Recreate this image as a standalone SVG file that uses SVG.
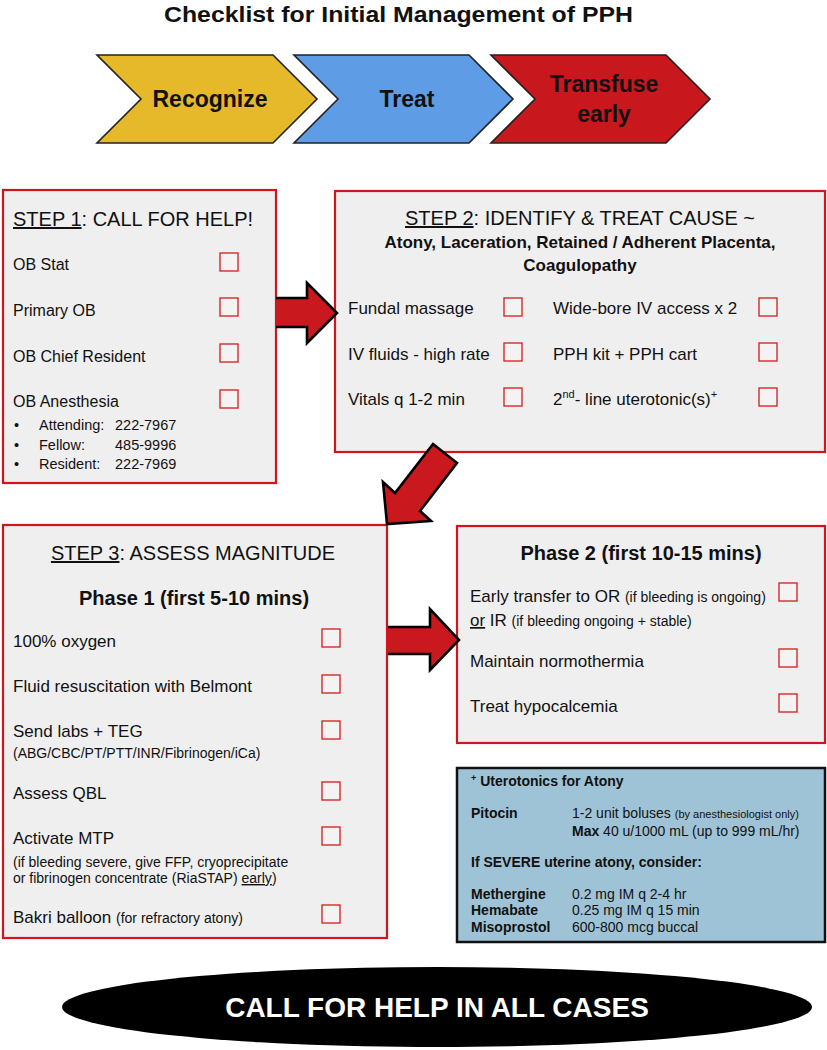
<svg xmlns="http://www.w3.org/2000/svg" width="827" height="1050" viewBox="0 0 827 1050">
<style>
text{font-family:"Liberation Sans",Arial,sans-serif;fill:#111}
.box{fill:#efefef;stroke:#d3141c;stroke-width:2.2}
.cb{fill:#f3f3f3;stroke:#d42a2a;stroke-width:1.4}
.it{font-size:17px}
.it16{font-size:16px}
.sm{font-size:14px}
.hd{font-size:20px}
.b{font-weight:bold}
.u{text-decoration:underline}
.chev{stroke:#222;stroke-width:1.6}
.ctext{font-size:23px;font-weight:bold;text-anchor:middle}
.arrow{fill:#c9191e;stroke:#000;stroke-width:2.6;stroke-linejoin:miter}
.afill{fill:#c9191e;stroke:none}
.aline{fill:none;stroke:#000;stroke-width:2.6;stroke-linejoin:miter}
.bt{font-size:14px}
.bs{font-size:11px}
</style>

<g id="title">
<text x="164" y="22" font-size="22" font-weight="bold" textLength="469" lengthAdjust="spacingAndGlyphs">Checklist for Initial Management of PPH</text>
</g>

<g id="chevron-recognize">
<polygon class="chev" fill="#e6b92a" points="97,55 273,55 317,99 273,143 97,143 141,99"/>
<text class="ctext" x="210" y="107">Recognize</text>
</g>
<g id="chevron-treat">
<polygon class="chev" fill="#5e9de6" points="294,55 469,55 513,99 469,143 294,143 338,99"/>
<text class="ctext" x="407" y="107">Treat</text>
</g>
<g id="chevron-transfuse">
<polygon class="chev" fill="#c8171d" points="491,55 666,55 710,99 666,143 491,143 535,99"/>
<text class="ctext" x="604" y="92">Transfuse</text>
<text class="ctext" x="604" y="122">early</text>
</g>

<g id="step1">
<rect class="box" x="3" y="190" width="273" height="293"/>
<text class="hd" x="13" y="226"><tspan class="u">STEP 1</tspan>: CALL FOR HELP!</text>
<text class="it16" x="13" y="270">OB Stat</text>
<text class="it16" x="13" y="316">Primary OB</text>
<text class="it16" x="13" y="362">OB Chief Resident</text>
<text class="it16" x="13" y="407">OB Anesthesia</text>
<rect class="cb" x="220" y="253" width="18" height="18"/>
<rect class="cb" x="220" y="298" width="18" height="18"/>
<rect class="cb" x="220" y="344" width="18" height="18"/>
<rect class="cb" x="220" y="390" width="18" height="18"/>
<g font-size="14.5">
<text x="14" y="430">•</text><text x="39" y="430">Attending:</text><text x="115" y="430">222-7967</text>
<text x="14" y="450">•</text><text x="39" y="450">Fellow:</text><text x="115" y="450">485-9996</text>
<text x="14" y="469">•</text><text x="39" y="469">Resident:</text><text x="115" y="469">222-7969</text>
</g>
</g>

<g id="step2">
<rect class="box" x="335" y="191" width="490" height="261"/>
<text class="hd" x="580" y="225" text-anchor="middle"><tspan class="u">STEP 2</tspan>: IDENTIFY &amp; TREAT CAUSE ~</text>
<text class="it b" x="580" y="248" text-anchor="middle">Atony, Laceration, Retained / Adherent Placenta,</text>
<text class="it b" x="580" y="271" text-anchor="middle">Coagulopathy</text>
<text class="it" x="348" y="314">Fundal massage</text>
<text class="it" x="348" y="360">IV fluids - high rate</text>
<text class="it" x="348" y="405">Vitals q 1-2 min</text>
<text class="it" x="553" y="314">Wide-bore IV access x 2</text>
<text class="it" x="553" y="360">PPH kit + PPH cart</text>
<text class="it" x="553" y="405">2<tspan font-size="11" dy="-7">nd</tspan><tspan dy="7">- line uterotonic(s)</tspan><tspan font-size="11" dy="-7">+</tspan></text>
<rect class="cb" x="504" y="298" width="18" height="18"/>
<rect class="cb" x="504" y="343" width="18" height="18"/>
<rect class="cb" x="504" y="388" width="18" height="18"/>
<rect class="cb" x="759" y="298" width="18" height="18"/>
<rect class="cb" x="759" y="343" width="18" height="18"/>
<rect class="cb" x="759" y="388" width="18" height="18"/>
</g>

<g id="step3">
<rect class="box" x="3" y="525" width="384" height="413"/>
<text class="hd" x="193" y="560" text-anchor="middle"><tspan class="u">STEP 3</tspan>: ASSESS MAGNITUDE</text>
<text class="hd b" x="194" y="605" text-anchor="middle">Phase 1 (first 5-10 mins)</text>
<text class="it" x="13" y="647">100% oxygen</text>
<text class="it" x="13" y="692">Fluid resuscitation with Belmont</text>
<text class="it" x="13" y="737">Send labs + TEG</text>
<text class="sm" x="13" y="758">(ABG/CBC/PT/PTT/INR/Fibrinogen/iCa)</text>
<text class="it" x="13" y="799">Assess QBL</text>
<text class="it" x="13" y="844">Activate MTP</text>
<text class="sm" x="13" y="867">(if bleeding severe, give FFP, cryoprecipitate</text>
<text class="sm" x="13" y="883">or fibrinogen concentrate (RiaSTAP) <tspan class="u">early</tspan>)</text>
<text class="it" x="13" y="923">Bakri balloon <tspan class="sm">(for refractory atony)</tspan></text>
<rect class="cb" x="322" y="629" width="18" height="18"/>
<rect class="cb" x="322" y="675" width="18" height="18"/>
<rect class="cb" x="322" y="721" width="18" height="18"/>
<rect class="cb" x="322" y="782" width="18" height="18"/>
<rect class="cb" x="322" y="827" width="18" height="18"/>
<rect class="cb" x="322" y="905" width="18" height="18"/>
</g>

<g id="phase2">
<rect class="box" x="457" y="526" width="368" height="217"/>
<text class="hd b" x="641" y="560" text-anchor="middle">Phase 2 (first 10-15 mins)</text>
<text class="it" x="470" y="602">Early transfer to OR <tspan class="sm">(if bleeding is ongoing)</tspan></text>
<text class="it" x="470" y="626"><tspan class="u">or</tspan> IR <tspan class="sm">(if bleeding ongoing + stable)</tspan></text>
<text class="it" x="470" y="667">Maintain normothermia</text>
<text class="it" x="470" y="712">Treat hypocalcemia</text>
<rect class="cb" x="779" y="583" width="18" height="18"/>
<rect class="cb" x="779" y="649" width="18" height="18"/>
<rect class="cb" x="779" y="694" width="18" height="18"/>
</g>

<g id="uterotonics">
<rect x="457" y="768" width="368" height="174" fill="#9fc3d6" stroke="#111" stroke-width="2.5"/>
<text class="bt b" x="471" y="786"><tspan font-size="9" dy="-5">+</tspan><tspan dy="5"> Uterotonics for Atony</tspan></text>
<text class="bt b" x="471" y="818">Pitocin</text>
<text class="bt" x="572" y="818">1-2 unit boluses <tspan class="bs">(by anesthesiologist only)</tspan></text>
<text class="bt" x="572" y="836"><tspan class="b">Max</tspan> 40 u/1000 mL (up to 999 mL/hr)</text>
<text class="bt b" x="471" y="867">If SEVERE uterine atony, consider:</text>
<text class="bt b" x="471" y="899">Methergine</text>
<text class="bt b" x="471" y="915">Hemabate</text>
<text class="bt b" x="471" y="932">Misoprostol</text>
<text class="bt" x="572" y="899">0.2 mg IM q 2-4 hr</text>
<text class="bt" x="572" y="915">0.25 mg IM q 15 min</text>
<text class="bt" x="572" y="932">600-800 mcg buccal</text>
</g>

<g id="call-for-help">
<ellipse cx="437" cy="1007" rx="375" ry="40" fill="#000"/>
<text x="437" y="1017" font-size="28" font-weight="bold" text-anchor="middle" style="fill:#fff">CALL FOR HELP IN ALL CASES</text>
</g>

<g id="connectors">
<polygon class="afill" points="276,298 307,298 307,283 337,313 307,343 307,327 276,327"/>
<polyline class="aline" points="276,298 307,298 307,283 337,313 307,343 307,327 276,327"/>
<polygon class="arrow" points="433,444 457,463 420,511 431,521 387,524 383,482 395,493"/>
<polygon class="afill" points="388,627 430,627 430,609 459,640 430,670 430,654 388,654"/>
<polyline class="aline" points="388,627 430,627 430,609 459,640 430,670 430,654 388,654"/>
</g>
</svg>
